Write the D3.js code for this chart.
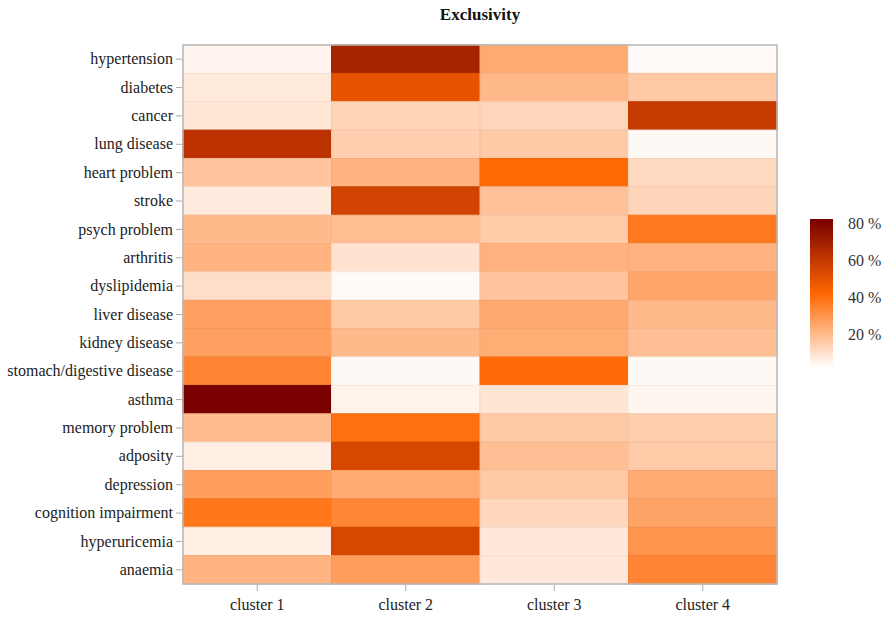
<!DOCTYPE html>
<html>
<head>
<meta charset="utf-8">
<script src="https://cdn.jsdelivr.net/npm/d3@7"></script>
<style>
  body { margin: 0; background: #fff; }
  svg { display: block; font-family: "Liberation Serif", "Times New Roman", serif; }
</style>
</head>
<body>
<svg id="chart" width="884" height="619"></svg>
<script>
// Conditions (rows) and clusters (columns)
const conditions = [
  "hypertension", "diabetes", "cancer", "lung disease", "heart problem",
  "stroke", "psych problem", "arthritis", "dyslipidemia", "liver disease",
  "kidney disease", "stomach/digestive disease", "asthma", "memory problem",
  "adposity", "depression", "cognition impairment", "hyperuricemia", "anaemia"
];
const clusters = ["cluster 1", "cluster 2", "cluster 3", "cluster 4"];

// Exclusivity (%) per condition, one array per cluster
const cluster1 = [4.4, 7.4, 8.3, 62.0, 17.1, 6.9, 19.8, 21.4, 10.2, 26.6, 26.6, 33.7, 82.0, 19.4, 5.9, 27.0, 37.7, 6.0, 21.4];
const cluster2 = [68.5, 49.0, 12.9, 14.3, 21.8, 55.6, 19.0, 9.0, 2.8, 15.9, 19.8, 3.2, 4.8, 39.3, 54.0, 23.8, 33.6, 54.0, 27.4];
const cluster3 = [24.0, 20.2, 12.5, 15.5, 41.5, 17.9, 15.3, 21.8, 17.1, 24.2, 23.4, 41.0, 8.4, 15.9, 18.4, 15.9, 12.1, 7.6, 7.6];
const cluster4 = [2.8, 15.9, 59.0, 3.2, 11.6, 12.7, 37.0, 21.8, 25.3, 20.0, 18.4, 3.2, 4.0, 14.6, 15.3, 24.0, 25.7, 29.7, 33.7];

const legendTicks = [20, 40, 60, 80];

const seriesByCluster = [cluster1, cluster2, cluster3, cluster4];
const cells = [];
conditions.forEach((c, i) => {
  clusters.forEach((k, j) => {
    cells.push({ condition: c, cluster: k, value: seriesByCluster[j][i] });
  });
});

const svg = d3.select("#chart");
const margin = { left: 183, right: 777, top: 45, bottom: 584 };

const x = d3.scaleBand().domain(clusters).range([margin.left, margin.right]).padding(0);
const y = d3.scaleBand().domain(conditions).range([margin.top, margin.bottom]).padding(0);

const vMin = 1.6, vMax = 82.2, vMid = (vMin + vMax) / 2;
const color = d3.scaleLinear()
  .domain([vMin, vMid, vMax])
  .range(["#ffffff", "#ff6600", "#780000"])
  .interpolate(d3.interpolateRgb)
  .clamp(true);

// Heatmap cells
svg.append("g")
  .selectAll("rect")
  .data(cells)
  .join("rect")
  .attr("x", d => x(d.cluster))
  .attr("y", d => y(d.condition))
  .attr("width", x.bandwidth())
  .attr("height", y.bandwidth())
  .attr("fill", d => color(d.value))
  .attr("stroke", d => d3.color(color(d.value)).darker(0.12))
  .attr("stroke-width", 1);

// Plot frame
svg.append("rect")
  .attr("x", margin.left)
  .attr("y", margin.top)
  .attr("width", margin.right - margin.left)
  .attr("height", margin.bottom - margin.top)
  .attr("fill", "none")
  .attr("stroke", "#b8b8b8")
  .attr("stroke-width", 1.5);

// Axes
const yAxis = svg.append("g")
  .attr("transform", `translate(${margin.left - 1},0)`)
  .call(d3.axisLeft(y).tickSize(6).tickPadding(3));
const xAxis = svg.append("g")
  .attr("transform", `translate(0,${margin.bottom + 1})`)
  .call(d3.axisBottom(x).tickSize(6).tickPadding(8));

[xAxis, yAxis].forEach(ax => {
  ax.select(".domain").remove();
  ax.selectAll(".tick line").attr("stroke", "#aaa");
  ax.selectAll(".tick text")
    .attr("fill", "#222")
    .style("font-family", '"Liberation Serif", serif')
    .style("font-size", "16px");
});

// Title
svg.append("text")
  .attr("x", (margin.left + margin.right) / 2)
  .attr("y", 20)
  .attr("text-anchor", "middle")
  .attr("fill", "#111")
  .style("font-weight", "bold")
  .style("font-size", "17px")
  .text("Exclusivity");

// Colour bar legend
const barX = 810, barW = 23, barTop = 219, barBottom = 368;
const legScale = d3.scaleLinear().domain([vMin, vMax]).range([barBottom, barTop]);

const defs = svg.append("defs");
const grad = defs.append("linearGradient")
  .attr("id", "legendGrad")
  .attr("x1", 0).attr("y1", 1).attr("x2", 0).attr("y2", 0);
d3.range(0, 1.0001, 0.05).forEach(t => {
  grad.append("stop")
    .attr("offset", t)
    .attr("stop-color", color(vMin + t * (vMax - vMin)));
});

svg.append("rect")
  .attr("x", barX)
  .attr("y", barTop)
  .attr("width", barW)
  .attr("height", barBottom - barTop)
  .attr("fill", "url(#legendGrad)");

svg.append("g")
  .selectAll("text")
  .data(legendTicks)
  .join("text")
  .attr("x", 848)
  .attr("y", d => legScale(d))
  .attr("dy", "0.35em")
  .attr("fill", "#333")
  .style("font-size", "16px")
  .text(d => `${d} %`);
</script>
</body>
</html>
